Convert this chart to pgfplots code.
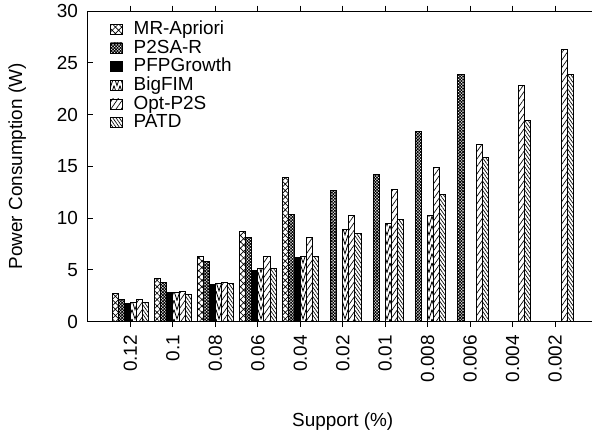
\documentclass[border=0pt]{standalone}
\usepackage{pgfplots}
\pgfplotsset{compat=1.18}
\usepackage{fontspec}
\setmainfont{Liberation Sans}
\usetikzlibrary{patterns.meta}
\newcommand{\myfont}{\fontsize{14.2}{17}\selectfont}
\tikzdeclarepattern{
  name=chevron,
  type=uncolored,
  bottom left={(-.3pt,-.3pt)},
  top right={(4.8pt,7.3pt)},
  tile size={(4.5pt,7pt)},
  code={
    \draw[line width=0.6pt] (0pt,7pt) -- (2.25pt,0pt) -- (4.5pt,7pt);
  }
}
\begin{document}
\begin{tikzpicture}
\begin{axis}[
  scale only axis,
  width=382.1pt, height=233pt,
  xmin=-1, xmax=11, ymin=0, ymax=30,
  ybar=0pt, bar width=0.1435,
  xtick={0,...,10},
  xticklabels={0.12,0.1,0.08,0.06,0.04,0.02,0.01,0.008,0.006,0.004,0.002},
  ytick={0,5,...,30},
  ytick pos=left,
  tick align=outside,
  major tick length=4pt,
  tick style={black, line width=0.75pt},
  ytick style={xshift=4pt},
  axis line style={line width=0.75pt},
  xticklabel style={rotate=90, anchor=east, font=\myfont},
  xticklabel shift=2.5pt,
  yticklabel style={font=\myfont},
  /pgf/number format/assume math mode=true,
  xlabel={Support (\%)},
  ylabel={Power Consumption (W)},
  xlabel style={font=\myfont, at={(axis description cs:0.5,-0.323)}, anchor=center},
  ylabel style={font=\myfont, at={(axis description cs:-0.139,0.5)}, anchor=center},
  legend image code/.code={\draw[#1,line width=0.6pt] (0pt,-3.75pt) rectangle (8.75pt,3.75pt);},
  legend style={draw=none, fill=none, font=\myfont, at={(axis description cs:0.0432,0.972)}, anchor=north west, inner sep=0pt, column sep=7.25pt, row sep=0pt, nodes={inner sep=1pt, text height=10pt, text depth=2pt, anchor=west}},
  legend cell align=left,
]
\coordinate (SW) at (rel axis cs:0,0);
\addplot[draw=black, line width=0.7pt, pattern={Hatch[angle=45,distance=3.4pt,line width=0.5pt]}, pattern color=black]
  coordinates {(0,2.7)(1,4.2)(2,6.3)(3,8.7)(4,13.9)};
\addplot[draw=black, line width=0.7pt, pattern={Hatch[angle=45,distance=1.6pt,line width=0.6pt]}, pattern color=black]
  coordinates {(0,2.1)(1,3.8)(2,5.8)(3,8.1)(4,10.4)(5,12.7)(6,14.2)(7,18.4)(8,23.9)};
\addplot[draw=black, line width=0.7pt, fill=black]
  coordinates {(0,1.8)(1,2.8)(2,3.6)(3,4.9)(4,6.2)};
\addplot[draw=black, line width=0.7pt, pattern=chevron, pattern color=black]
  coordinates {(0,1.9)(1,2.8)(2,3.7)(3,5.1)(4,6.3)(5,8.9)(6,9.5)(7,10.3)};
\addplot[draw=black, line width=0.7pt, pattern={Lines[angle=55,distance=3.2pt,line width=0.5pt]}, pattern color=black]
  coordinates {(0,2.1)(1,2.9)(2,3.8)(3,6.3)(4,8.1)(5,10.3)(6,12.8)(7,14.9)(8,17.1)(9,22.8)(10,26.3)};
\addplot[draw=black, line width=0.7pt, pattern={Lines[angle=-55,distance=2pt,line width=0.5pt]}, pattern color=black]
  coordinates {(0,1.9)(1,2.6)(2,3.7)(3,5.1)(4,6.3)(5,8.5)(6,9.9)(7,12.3)(8,15.9)(9,19.4)(10,23.9)};
\legend{MR-Apriori,P2SA-R,PFPGrowth,BigFIM,Opt-P2S,PATD}
\end{axis}
\pgfresetboundingbox
\path[use as bounding box] ([shift={(-66pt,-81.975pt)}]SW) rectangle ([shift={(378pt,241.275pt)}]SW);
\end{tikzpicture}
\end{document}
